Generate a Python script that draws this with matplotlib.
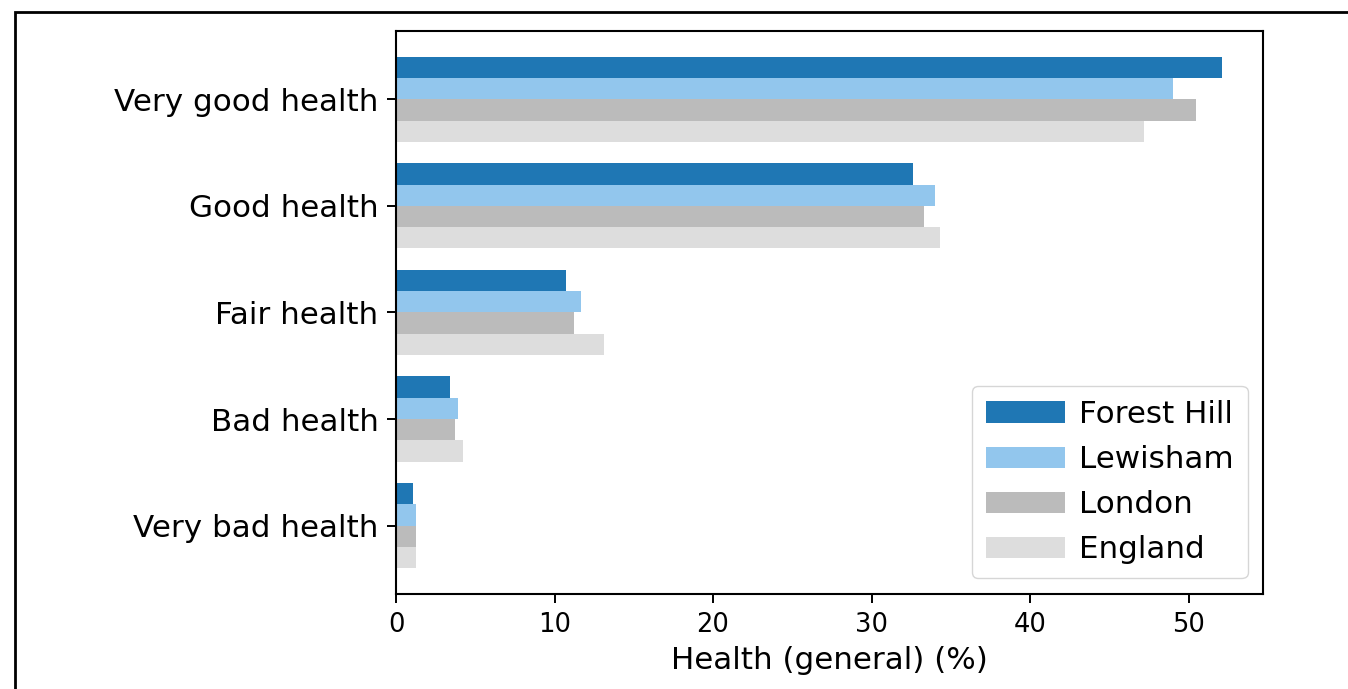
import numpy as np
import matplotlib.pyplot as plt
from matplotlib.patches import Rectangle

categories = ["Very good health", "Good health", "Fair health", "Bad health", "Very bad health"]
series = ["Forest Hill", "Lewisham", "London", "England"]
forest_hill = [52.1, 32.6, 10.7, 3.4, 1.05]
lewisham = [49.0, 34.0, 11.7, 3.9, 1.25]
london = [50.5, 33.3, 11.2, 3.75, 1.25]
england = [47.2, 34.3, 13.1, 4.2, 1.25]
colors = ["#1f77b4", "#92c6ed", "#bbbbbb", "#dddddd"]

fig = plt.figure(figsize=(13.48, 6.89), dpi=100)
ax = fig.add_axes([0.2938, 0.138, 0.6432, 0.817])

y = np.arange(len(categories))
h = 0.2
for k, (name, vals) in enumerate(zip(series, [forest_hill, lewisham, london, england])):
    ax.barh(y + (k - 1.5) * h, vals, height=h, color=colors[k], label=name)

ax.set_yticks(y)
ax.set_yticklabels(categories)
ax.invert_yaxis()
ax.tick_params(length=6.2, width=1.4, pad=6.5)
ax.tick_params(axis="x", labelsize=18.5)
ax.tick_params(axis="y", labelsize=22.3)
ax.set_xlabel("Health (general) (%)", fontsize=22.3, labelpad=6)
for s in ax.spines.values():
    s.set_linewidth(1.5)
ax.legend(loc="lower right", fontsize=22.3, handlelength=2.55,
          handletextpad=0.45, borderpad=0.45, labelspacing=0.52)

# outer frame around the figure
fig.patches.append(Rectangle((15 / 1348, -0.1), 1.2, 1.1 - 12 / 689,
                             transform=fig.transFigure, fill=False,
                             edgecolor="black", linewidth=2))

plt.savefig("out.png", dpi=100)
